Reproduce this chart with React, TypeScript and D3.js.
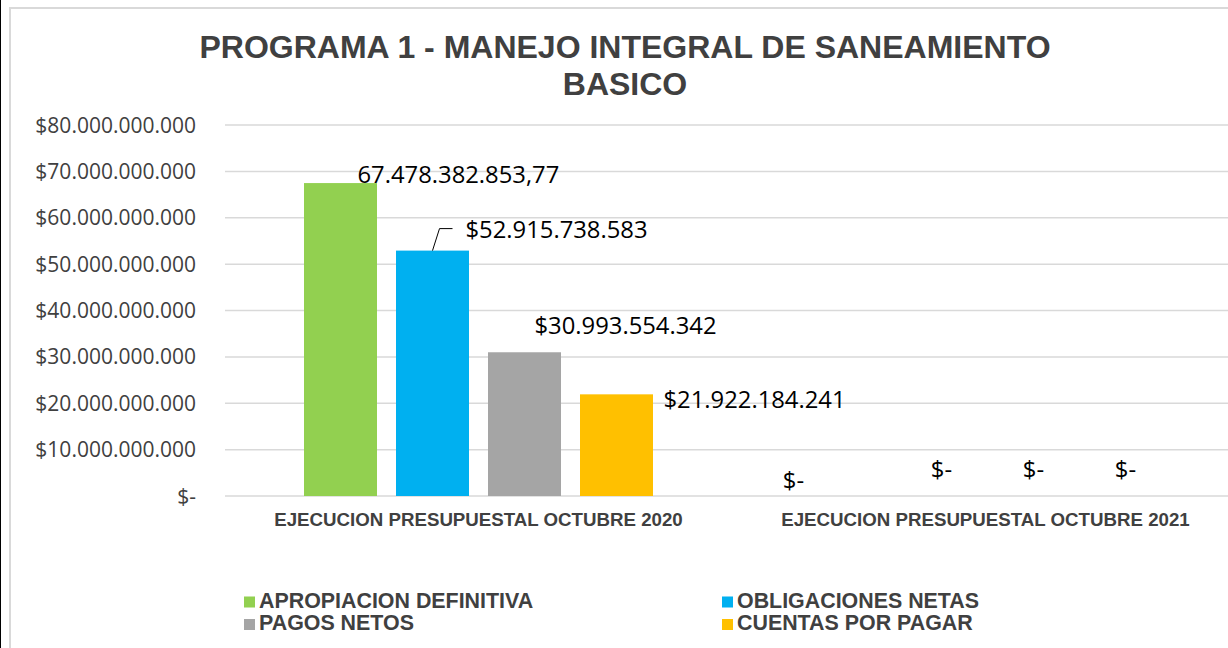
import React from "react";
import * as d3 from "d3";

const categories = [
  "EJECUCION PRESUPUESTAL OCTUBRE 2020",
  "EJECUCION PRESUPUESTAL OCTUBRE 2021",
];
const seriesNames = [
  "APROPIACION DEFINITIVA",
  "OBLIGACIONES NETAS",
  "PAGOS NETOS",
  "CUENTAS POR PAGAR",
];
const seriesColors = ["#92D050", "#00B0F0", "#A5A5A5", "#FFC000"];
// values[series][category]
const apropiacion = [67478382853.77, 0];
const obligaciones = [52915738583, 0];
const pagos = [30993554342, 0];
const cuentas = [21922184241, 0];
const values = [apropiacion, obligaciones, pagos, cuentas];
const yTicks = [0, 10e9, 20e9, 30e9, 40e9, 50e9, 60e9, 70e9, 80e9];
const titleLines = ["PROGRAMA 1 - MANEJO INTEGRAL DE SANEAMIENTO", "BASICO"];

// manual label placement (offsets from bar top-centre), [category][series]
const labelOffsets = [
  [
    { dx: 17, dy: 0, anchor: "start" },
    { dx: 33, dy: -13, anchor: "start", leader: true },
    { dx: 10, dy: -18, anchor: "start" },
    { dx: 47, dy: 14, anchor: "start" },
  ],
  [
    { dx: -54, dy: -7, anchor: "middle" },
    { dx: 2, dy: -18, anchor: "middle" },
    { dx: 2, dy: -18, anchor: "middle" },
    { dx: 2, dy: -18, anchor: "middle" },
  ],
];

const locale = d3.formatLocale({
  decimal: ",",
  thousands: ".",
  grouping: [3],
  currency: ["$", ""],
});
const fmtInt = locale.format("$,.0f");
const fmtDec = locale.format(",.2f");
const fmtAxis = (v: number) => (v === 0 ? "$-" : fmtInt(v));
const fmtLabel = (v: number, s: number) =>
  v === 0 ? "$-" : s === 0 ? fmtDec(v) : fmtInt(v);

const W = 1228;
const H = 648;
const plotLeft = 225;
const plotRight = 1239;
const plotTop = 125;
const plotBottom = 496;

export default function App() {
  const y = d3.scaleLinear().domain([0, 80e9]).range([plotBottom, plotTop]);
  const x0 = d3.scaleBand<string>().domain(categories).range([plotLeft, plotRight]);
  const groupW = 349;
  const x1 = d3
    .scaleBand<string>()
    .domain(seriesNames)
    .range([(x0.bandwidth() - groupW) / 2, (x0.bandwidth() + groupW) / 2])
    .paddingInner(19 / 92)
    .paddingOuter(0);

  const textColor = "#404040";
  const gridColor = "#D9D9D9";

  return (
    <>
      <style>{`body{margin:0;}`}</style>
      <svg width={W} height={H} style={{ display: "block", background: "#fff" }}>
        {/* outer frames */}
        <rect x={0} y={0} width={1} height={H} fill="#000" />
        <line x1={10} y1={8} x2={10} y2={H} stroke={gridColor} strokeWidth={2} />
        <line x1={9} y1={8} x2={W} y2={8} stroke={gridColor} strokeWidth={2} />

        {/* title */}
        {titleLines.map((t, i) => (
          <text
            key={t}
            x={625}
            y={58 + i * 37}
            textAnchor="middle"
            fontFamily="'Liberation Sans', Arial, sans-serif"
            fontWeight="bold"
            fontSize={32}
            fill={textColor}
          >
            {t}
          </text>
        ))}

        {/* gridlines and y labels */}
        {yTicks.map((t) => (
          <g key={t}>
            <line
              x1={plotLeft}
              x2={plotRight}
              y1={y(t)}
              y2={y(t)}
              stroke={gridColor}
              strokeWidth={1.5}
            />
            <text
              x={196}
              y={y(t)}
              dy="0.36em"
              textAnchor="end"
              fontFamily="'Open Sans', sans-serif"
              fontSize={21}
              fill={textColor}
            >
              {fmtAxis(t)}
            </text>
          </g>
        ))}

        {/* bars */}
        {categories.map((c, ci) => (
          <g key={c} transform={`translate(${x0(c)},0)`}>
            {seriesNames.map((s, si) => (
              <rect
                key={s}
                x={x1(s)}
                y={y(values[si][ci])}
                width={x1.bandwidth()}
                height={plotBottom - y(values[si][ci])}
                fill={seriesColors[si]}
              />
            ))}
          </g>
        ))}

        {/* data labels */}
        {categories.map((c, ci) =>
          seriesNames.map((s, si) => {
            const v = values[si][ci];
            const cx = (x0(c) as number) + (x1(s) as number) + x1.bandwidth() / 2;
            const top = y(v);
            const o = labelOffsets[ci][si] as any;
            const lx = cx + o.dx;
            const ly = top + o.dy;
            return (
              <g key={c + s}>
                {o.leader && (
                  <polyline
                    points={`${cx},${top} ${lx - 26},${ly - 9} ${lx - 13},${ly - 9}`}
                    fill="none"
                    stroke="#000"
                    strokeWidth={1}
                  />
                )}
                <text
                  x={lx}
                  y={ly}
                  textAnchor={o.anchor}
                  fontFamily="'Open Sans', sans-serif"
                  fontSize={23.8}
                  fill="#000"
                >
                  {fmtLabel(v, si)}
                </text>
              </g>
            );
          })
        )}

        {/* category labels */}
        {categories.map((c) => (
          <text
            key={c}
            x={(x0(c) as number) + x0.bandwidth() / 2}
            y={526}
            textAnchor="middle"
            fontFamily="'Liberation Sans', Arial, sans-serif"
            fontWeight="bold"
            fontSize={18.7}
            fill={textColor}
          >
            {c}
          </text>
        ))}

        {/* legend */}
        {seriesNames.map((s, i) => {
          const col = i % 2;
          const row = Math.floor(i / 2);
          const lx = col === 0 ? 244 : 722;
          const base = 607.5 + row * 22.5;
          return (
            <g key={s}>
              <rect x={lx} y={base - 11} width={11} height={11} fill={seriesColors[i]} />
              <text
                x={lx + 15}
                y={base}
                fontFamily="'Liberation Sans', Arial, sans-serif"
                fontWeight="bold"
                fontSize={21.4}
                fill={textColor}
              >
                {s}
              </text>
            </g>
          );
        })}
      </svg>
    </>
  );
}
